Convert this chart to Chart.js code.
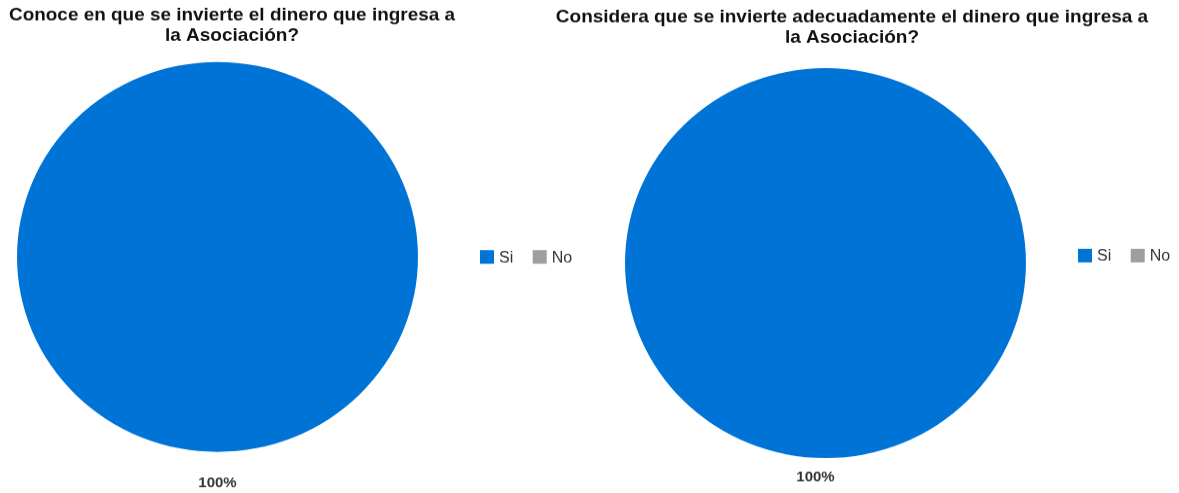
<!DOCTYPE html>
<html>
<head>
<meta charset="utf-8">
<title>Encuesta Asociación</title>
<script src="https://cdn.jsdelivr.net/npm/chart.js@4.4.1/dist/chart.umd.min.js"></script>
<style>
  html, body { margin: 0; padding: 0; background: #fff; }
  body { width: 1179px; height: 493px; overflow: hidden; position: relative; }
  /* el lienzo se dibuja a 507px de alto y se muestra a 493px (pie algo achatado) */
  canvas { position: absolute; top: 0; height: 493px; }
</style>
</head>
<body>
<canvas id="chartConoce" width="590" height="507" style="left:0; width:590px; height:493px"></canvas>
<canvas id="chartConsidera" width="649" height="507" style="left:530px; width:649px; height:493px"></canvas>
<script>
// Datos
const categories = ['Si', 'No'];
const conoceValues = [100, 0];
const consideraValues = [100, 0];
const conoceTitle = ['Conoce en que se invierte el dinero que ingresa a', 'la Asociación?'];
const consideraTitle = ['Considera que se invierte adecuadamente el dinero que ingresa a', 'la Asociación?'];
const sliceColors = ['#0073D6', '#9E9E9E'];

const FONT = "'Liberation Sans', Arial, sans-serif";

// Leyenda horizontal a la derecha del pie; reserva espacio en el area del grafico
const inlineLegend = {
  id: 'inlineLegend',
  afterLayout(chart, args, opts) {
    const a = chart.chartArea;
    a.right -= opts.reserve;
    a.width = a.right - a.left;
  },
  afterDraw(chart, args, opts) {
    const { ctx, chartArea: a } = chart;
    const ds = chart.data.datasets[0];
    const y = (a.top + a.bottom) / 2 + opts.dy;
    let x = opts.x;
    ctx.save();
    ctx.font = opts.font;
    ctx.textBaseline = 'middle';
    ctx.textAlign = 'left';
    chart.data.labels.forEach((lbl, i) => {
      ctx.fillStyle = ds.backgroundColor[i];
      ctx.fillRect(x, y - opts.box / 2, opts.box, opts.box);
      ctx.fillStyle = opts.color;
      ctx.fillText(lbl, x + opts.box + opts.gap, y + 1);
      x += opts.box + opts.gap + ctx.measureText(lbl).width + opts.spacing;
    });
    ctx.restore();
  }
};

// Porcentaje fuera de cada porcion
const percentLabels = {
  id: 'percentLabels',
  afterDatasetsDraw(chart, args, opts) {
    const { ctx } = chart;
    const values = chart.data.datasets[0].data;
    const total = values.reduce((s, v) => s + v, 0);
    const meta = chart.getDatasetMeta(0);
    ctx.save();
    ctx.font = opts.font;
    ctx.fillStyle = opts.color;
    ctx.textAlign = 'center';
    ctx.textBaseline = 'middle';
    meta.data.forEach((arc, i) => {
      if (!values[i]) return;
      const p = arc.getProps(['x', 'y', 'startAngle', 'endAngle', 'outerRadius'], true);
      const mid = (p.startAngle + p.endAngle) / 2;
      const d = p.outerRadius + opts.offset;
      ctx.fillText(Math.round(values[i] / total * 100) + '%', p.x + Math.cos(mid) * d + opts.dx, p.y + Math.sin(mid) * d);
    });
    ctx.restore();
  }
};

function makePie(id, title, values, lay) {
  const el = document.getElementById(id);
  return new Chart(el, {
    type: 'pie',
    data: {
      labels: categories,
      datasets: [{
        data: values,
        backgroundColor: sliceColors,
        borderWidth: 0,
        hoverOffset: 0
      }]
    },
    options: {
      responsive: false,
      animation: false,
      events: [],
      layout: { padding: lay.padding },
      plugins: {
        legend: { display: false },
        tooltip: { enabled: false },
        title: {
          display: true,
          text: title,
          color: '#111',
          font: { family: FONT, size: 19, weight: 'bold', lineHeight: 1.08 },
          padding: lay.titlePadding
        },
        inlineLegend: {
          reserve: lay.reserve,
          x: lay.legendX,
          dy: lay.legendDy,
          box: 14,
          gap: 5,
          spacing: 19.5,
          font: '16px ' + FONT,
          color: '#333'
        },
        percentLabels: {
          offset: lay.labelOffset,
          dx: lay.labelDx,
          font: 'bold 15px ' + FONT,
          color: '#333'
        }
      }
    },
    plugins: [inlineLegend, percentLabels]
  });
}

makePie('chartConoce', conoceTitle, conoceValues, {
  padding: { left: 9, right: 135, top: 0, bottom: 42.3 },
  titlePadding: { top: 5.8, bottom: 16.9 },
  reserve: 29,
  legendX: 480,
  legendDy: 0,
  labelOffset: 32,
  labelDx: 0
});

makePie('chartConsidera', consideraTitle, consideraValues, {
  padding: { left: 22, right: 27, top: 0, bottom: 36 },
  titlePadding: { top: 7.8, bottom: 21.2 },
  reserve: 53,
  legendX: 548,
  legendDy: -7.7,
  labelOffset: 19.5,
  labelDx: -10
});
</script>
</body>
</html>
